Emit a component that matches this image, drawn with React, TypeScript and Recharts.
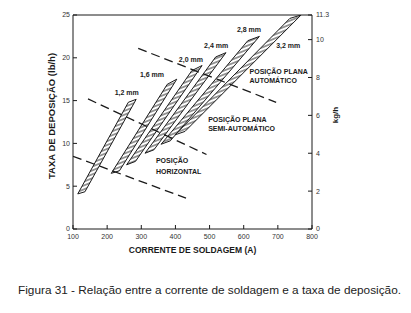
import { ComposedChart, Area, Line, Scatter, XAxis, YAxis, ReferenceLine } from 'recharts'

const currentTicks = [100, 200, 300, 400, 500, 600, 700, 800]
const lbTicks = [0, 5, 10, 15, 20, 25]
const kgTicks = [0, 2, 4, 6, 8, 10, 11.3]

// wire diameters and the four corners of each hatched band, [current (A), rate (lb/h)]
const wires = ['1,2 mm', '1,6 mm', '2,0 mm', '2,4 mm', '2,8 mm', '3,2 mm']
const bandBottomLeft = [[114, 4.1], [212, 6.5], [257, 7.5], [311, 8.85], [358, 9.9], [399, 11.0]]
const bandBottomRight = [[135, 4.35], [236, 6.8], [283, 7.9], [337, 9.25], [385, 10.3], [428, 11.4]]
const bandTopLeft = [[262, 14.8], [376, 16.9], [448, 18.5], [518, 20.1], [612, 22.0], [735, 24.6]]
const bandTopRight = [[285, 15.15], [404, 17.5], [478, 19.1], [548, 20.6], [646, 22.5], [768, 25]]

// dashed limits for each welding position
const guideStart = [[100, 8.5], [144, 15.2], [291, 21.1]]
const guideEnd = [[431, 3.6], [491, 8.7], [695, 14.8]]

// text notes inside the plot
const noteText = [...wires, 'POSIÇÃO PLANA', 'AUTOMÁTICO', 'POSIÇÃO PLANA', 'SEMI-AUTOMÁTICO', 'POSIÇÃO', 'HORIZONTAL']
const noteA = [222, 296, 410, 484, 580, 695, 617, 617, 496, 496, 343, 343]
const noteLb = [16.0, 18.05, 19.85, 21.45, 23.3, 21.45, 18.45, 17.4, 12.85, 11.75, 7.95, 6.75]

type P = number[]
const along = (p: P, q: P, x: number) => p[1] + ((q[1] - p[1]) * (x - p[0])) / (q[0] - p[0])

// each band as a range area: lower edge / upper edge at each corner
const bands = wires.map((_, i) => {
  const bl = bandBottomLeft[i], br = bandBottomRight[i], tl = bandTopLeft[i], tr = bandTopRight[i]
  return [
    { a: bl[0], v: [bl[1], bl[1]] },
    { a: br[0], v: [br[1], along(bl, tl, br[0])] },
    { a: tl[0], v: [along(br, tr, tl[0]), tl[1]] },
    { a: tr[0], v: [tr[1], tr[1]] },
  ]
})

const guides = guideStart.map((s, i) => [
  { a: s[0], lb: s[1] },
  { a: guideEnd[i][0], lb: guideEnd[i][1] },
])

const notes = noteText.map((text, i) => ({ text, a: noteA[i], lb: noteLb[i] }))

const font = '"Liberation Sans", Arial, sans-serif'
const ink = '#1a1a1a'

const NoteShape = (p: any) => (
  <text x={p.cx} y={p.cy} dy={2.5} fontSize={7} fontWeight={700} fill={ink} fontFamily={font}>
    {p.payload.text}
  </text>
)

const tickStyle = { fontSize: 7, fill: '#333', fontFamily: font }

export default function App() {
  return (
    <div style={{ position: 'absolute', left: 0, top: 0, width: 411, height: 313, background: '#fff', fontFamily: font }}>
      <ComposedChart width={411} height={262} margin={{ top: 15, right: 59, bottom: 0, left: 0 }}>
        <defs>
          <pattern id="hatch" width="4" height="3.6" patternUnits="userSpaceOnUse" patternTransform="rotate(-22)">
            <rect width="4" height="3.6" fill="#fff" />
            <line x1="0" y1="1.8" x2="4" y2="1.8" stroke={ink} strokeWidth="0.9" />
          </pattern>
        </defs>
        <XAxis
          dataKey="a" type="number" domain={[100, 800]} ticks={currentTicks} interval={0}
          allowDataOverflow height={33} tickSize={-4} tickMargin={9}
          tick={tickStyle} axisLine={{ stroke: ink }} tickLine={{ stroke: ink }}
          label={(p: any) => (
            <text x={p.viewBox.x + p.viewBox.width / 2} y={p.viewBox.y + 24} textAnchor="middle"
              fontSize={8.5} fontWeight={700} fill={ink} fontFamily={font}>
              CORRENTE DE SOLDAGEM (A)
            </text>
          )}
        />
        <YAxis
          yAxisId="lb" type="number" domain={[0, 25]} ticks={lbTicks} interval={0}
          allowDataOverflow width={73} tickSize={-4} tickMargin={7}
          tick={tickStyle} axisLine={{ stroke: ink }} tickLine={{ stroke: ink }}
          label={(p: any) => {
            const cx = p.viewBox.x + 51.5
            const cy = p.viewBox.y + p.viewBox.height / 2 - 6
            return (
              <text x={cx} y={cy} transform={`rotate(-90 ${cx} ${cy})`} textAnchor="middle" dominantBaseline="central"
                fontSize={9.5} fontWeight={700} fill={ink} fontFamily={font}>
                TAXA DE DEPOSIÇÃO (lb/h)
              </text>
            )
          }}
        />
        <YAxis
          yAxisId="kg" orientation="right" type="number" domain={[0, 11.3]} ticks={kgTicks} interval={0}
          allowDataOverflow width={40} tickSize={-4} tickMargin={8}
          tick={tickStyle} axisLine={{ stroke: ink }} tickLine={{ stroke: ink }}
          label={(p: any) => {
            const cx = p.viewBox.x + 23
            const cy = p.viewBox.y + 100
            return (
              <text x={cx} y={cy} transform={`rotate(-90 ${cx} ${cy})`} textAnchor="middle" dominantBaseline="central"
                fontSize={8} fontWeight={700} fill={ink} fontFamily={font}>
                kg/h
              </text>
            )
          }}
        />
        <ReferenceLine y={25} yAxisId="lb" stroke={ink} ifOverflow="visible" />
        {guides.map((g, i) => (
          <Line key={'g' + i} data={g} dataKey="lb" yAxisId="lb" type="linear" stroke={ink} strokeWidth={1.3}
            strokeDasharray="9 5" dot={false} activeDot={false} isAnimationActive={false} />
        ))}
        {bands.map((b, i) => (
          <Area key={wires[i]} data={b} dataKey="v" yAxisId="lb" type="linear" stroke={ink} strokeWidth={1}
            fill="url(#hatch)" fillOpacity={1} dot={false} activeDot={false} isAnimationActive={false} />
        ))}
        <Scatter data={notes} dataKey="lb" yAxisId="lb" shape={NoteShape} isAnimationActive={false} />
      </ComposedChart>
      <div style={{ position: 'absolute', left: 18, top: 283, fontSize: 11.8, color: '#222', whiteSpace: 'nowrap' }}>
        Figura 31 - Relação entre a corrente de soldagem e a taxa de deposição.
      </div>
    </div>
  )
}
